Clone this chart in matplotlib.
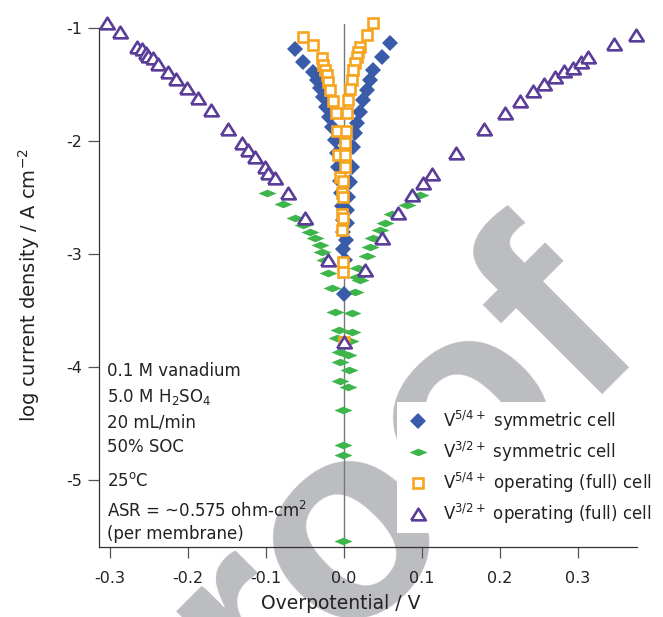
import numpy as np
import matplotlib.pyplot as plt

plt.rcParams['font.family'] = ['DejaVu Sans']
plt.rcParams['axes.unicode_minus'] = False
plt.rcParams['mathtext.default'] = 'regular'

# ---- data (overpotential / V, log current density) ----
blue_x = [-0.063, -0.053, -0.040, -0.035, -0.031, -0.027, -0.023, -0.019, -0.015, -0.012,
          -0.009, -0.008, -0.005, -0.004, -0.003, -0.001, -0.001, -0.001, 0.0,
          0.059, 0.049, 0.037, 0.033, 0.029, 0.024, 0.021, 0.017, 0.014, 0.012,
          0.010, 0.008, 0.005, 0.004, 0.004, 0.003, 0.001]
blue_y = [-1.19, -1.30, -1.39, -1.46, -1.53, -1.61, -1.70, -1.79, -1.88, -1.99,
          -2.11, -2.23, -2.35, -2.46, -2.58, -2.70, -2.81, -2.96, -3.35,
          -1.13, -1.26, -1.37, -1.46, -1.55, -1.64, -1.74, -1.84, -1.93, -2.05,
          -2.23, -2.36, -2.50, -2.61, -2.73, -2.88, -3.05]

green_x = [-0.099, -0.078, -0.063, -0.053, -0.044, -0.037, -0.031, -0.028, -0.024, -0.021,
           -0.015, -0.012, -0.006, -0.009, -0.005, -0.005, -0.005, -0.001, -0.001, -0.001,
           0.097, 0.081, 0.062, 0.053, 0.046, 0.037, 0.033, 0.029, 0.020, 0.018, 0.017,
           0.014, 0.010, 0.010, 0.008, 0.005, 0.006, 0.005, -0.001]
green_y = [-2.46, -2.56, -2.68, -2.74, -2.81, -2.86, -2.92, -2.98, -3.05, -3.17,
           -3.30, -3.51, -3.67, -3.74, -3.87, -3.96, -4.12, -4.38, -4.69, -5.54,
           -2.48, -2.57, -2.65, -2.73, -2.79, -2.86, -2.94, -3.02, -3.23, -3.12, -3.20,
           -3.34, -3.52, -3.69, -3.77, -3.89, -4.03, -4.18, -4.78]

orange_x = [-0.053, -0.040, -0.028, -0.027, -0.024, -0.022, -0.021, -0.018, -0.014, -0.010,
            -0.009, -0.008, -0.005, -0.003, -0.003, -0.003, -0.001, -0.001,
            0.037, 0.029, 0.021, 0.018, 0.017, 0.014, 0.012, 0.010, 0.008, 0.005,
            0.004, 0.003, 0.001, 0.001, 0.001, -0.001, -0.001, -0.001, 0.0]
orange_y = [-1.08, -1.15, -1.27, -1.33, -1.37, -1.42, -1.48, -1.55, -1.65, -1.75,
            -1.91, -2.12, -2.32, -2.46, -2.65, -2.79, -3.07, -3.16,
            -0.96, -1.06, -1.17, -1.21, -1.26, -1.31, -1.37, -1.46, -1.54, -1.64,
            -1.75, -1.91, -2.02, -2.12, -2.23, -2.35, -2.50, -2.68, -3.78]

purple_x = [-0.304, -0.287, -0.265, -0.259, -0.254, -0.251, -0.245, -0.238, -0.226, -0.215,
            -0.201, -0.187, -0.171, -0.149, -0.131, -0.123, -0.114, -0.101, -0.097, -0.088,
            -0.072, -0.050, -0.021, 0.0,
            0.027, 0.049, 0.069, 0.087, 0.101, 0.113, 0.144, 0.179, 0.206, 0.226,
            0.242, 0.256, 0.271, 0.282, 0.294, 0.304, 0.313, 0.346, 0.374]
purple_y = [-0.96, -1.04, -1.17, -1.19, -1.22, -1.25, -1.27, -1.32, -1.39, -1.45,
            -1.53, -1.62, -1.73, -1.89, -2.02, -2.08, -2.14, -2.23, -2.28, -2.33,
            -2.46, -2.68, -3.05, -3.78,
            -3.14, -2.86, -2.64, -2.48, -2.37, -2.29, -2.11, -1.89, -1.75, -1.65,
            -1.56, -1.50, -1.43, -1.38, -1.35, -1.30, -1.26, -1.14, -1.06]

labels = [r"V$^{5/4+}$ symmetric cell",
          r"V$^{3/2+}$ symmetric cell",
          r"V$^{5/4+}$ operating (full) cell",
          r"V$^{3/2+}$ operating (full) cell"]

notes = ["0.1 M vanadium", r"5.0 M H$_2$SO$_4$", "20 mL/min", "50% SOC",
         r"25$^o$C", r"ASR = ~0.575 ohm-cm$^2$", "(per membrane)"]
notes_y = [-4.04, -4.27, -4.49, -4.71, -5.01, -5.27, -5.48]

xticks = [-0.3, -0.2, -0.1, 0.0, 0.1, 0.2, 0.3]
yticks = [-5, -4, -3, -2, -1]

# ==========================
fig = plt.figure(figsize=(6.63, 6.17), dpi=100)
ax = fig.add_axes([0.1493, 0.1135, 0.8115, 0.8476])
ax.set_facecolor('none')

# "Proof" watermark behind everything
fig.text(0.585, 0.045, "Proof", fontsize=200, fontweight='bold', family='Liberation Sans',
         color='#bcbdc1', rotation=45, rotation_mode='anchor', ha='center', va='baseline',
         zorder=-1)

ax.axvline(0, color='#777777', linewidth=1.0, zorder=1)

green_marker = [(-1, 0), (0, 0.42), (1, 0), (0, -0.42), (-1, 0)]
tri_marker = [(-1, -0.8), (1, -0.8), (0, 0.8), (-1, -0.8)]

ax.plot(green_x, green_y, linestyle='none', marker=green_marker, markersize=13,
        color='#3db54a', markeredgewidth=0, label=labels[1], zorder=2, clip_on=False)
ax.plot(blue_x, blue_y, linestyle='none', marker='D', markersize=8,
        color='#3a5ca8', markeredgewidth=0, label=labels[0], zorder=3, clip_on=False)
ax.plot(orange_x, orange_y, linestyle='none', marker='s', markersize=7,
        markerfacecolor='white', markeredgecolor='#f7a520', markeredgewidth=1.9,
        label=labels[2], zorder=4, clip_on=False)
ax.plot(purple_x, purple_y, linestyle='none', marker=tri_marker, markersize=10.5,
        markerfacecolor='white', markeredgecolor='#5a3d99', markeredgewidth=1.9,
        label=labels[3], zorder=5, clip_on=False)

ax.set_xlim(-0.3141, 0.3756)
ax.set_ylim(-5.593, -0.965)
ax.set_xticks(xticks)
ax.set_xticklabels([f"{t:.1f}" for t in xticks])
ax.set_yticks(yticks)
ax.set_yticklabels([str(t) for t in yticks])

for s in ['top', 'right']:
    ax.spines[s].set_visible(False)
for s in ['left', 'bottom']:
    ax.spines[s].set_linewidth(0.9)
    ax.spines[s].set_color('#333333')
ax.spines['left'].set_bounds(-5.593, -1.0)

ax.tick_params(axis='both', direction='out', length=8, width=0.9, color='#555555',
               labelsize=11.5, labelcolor='#222222')
ax.tick_params(axis='x', pad=9)
ax.tick_params(axis='y', pad=4)

ax.set_xlabel("Overpotential / V", fontsize=13.5, color='#222222')
ax.xaxis.set_label_coords((341 - 99) / 538, -(594 - 547) / 523)
ax.set_ylabel(r"log current density / A cm$^{-2}$", fontsize=14, color='#222222')
ax.yaxis.set_label_coords(-(99 - 42) / 538, 0.5)

for t, y in zip(notes, notes_y):
    ax.text(-0.304, y, t, fontsize=12, color='#222222', ha='left', va='center')

# legend order: blue, green, orange, purple
h, l = ax.get_legend_handles_labels()
order = [1, 0, 2, 3]
leg = ax.legend([h[i] for i in order], [l[i] for i in order], loc='upper left',
                bbox_to_anchor=(397 / 663, 1 - 402 / 617), bbox_transform=fig.transFigure,
                fontsize=12, frameon=True, framealpha=1, facecolor='white',
                edgecolor='none', fancybox=False, borderpad=0.4, labelspacing=0.42,
                handlelength=1.7, handletextpad=0.65, borderaxespad=0)
leg.set_zorder(6)
for t in leg.get_texts():
    t.set_color('#222222')

fig.savefig("out.png", dpi=100)
